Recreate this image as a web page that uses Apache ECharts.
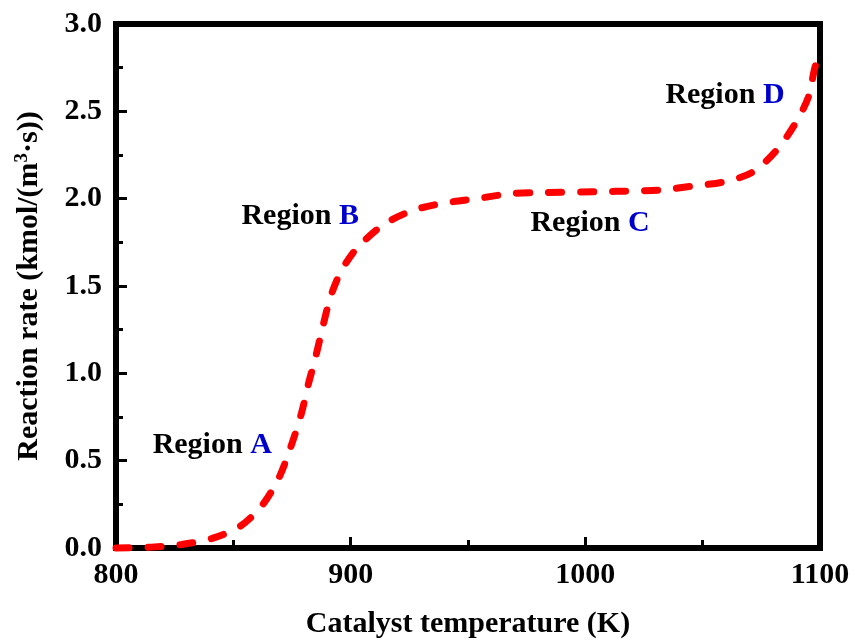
<!DOCTYPE html>
<html>
<head>
<meta charset="utf-8">
<script src="https://cdn.jsdelivr.net/npm/echarts@6/dist/echarts.min.js"></script>
<style>
html,body{margin:0;padding:0;background:#fff;}
#chart{width:855px;height:641px;}
</style>
</head>
<body>
<div id="chart"></div>
<script>
// Data
var temps = [800,815,828,841,853,862,869,874,879,882,885,888,891,894,897,901,905,915,927,940,955,969,981,1006,1020,1033,1046,1059,1071,1081,1089,1095,1098,1100];
var rates = [0,0.005,0.02,0.055,0.125,0.24,0.39,0.56,0.77,0.94,1.09,1.26,1.42,1.53,1.61,1.69,1.75,1.86,1.935,1.975,2.003,2.03,2.035,2.04,2.044,2.05,2.073,2.096,2.15,2.27,2.42,2.58,2.76,2.81];

var regionNames = ['A','B','C','D'];
var regionT = [841, 878.5, 1002, 1059.5];
var regionR = [0.59, 1.90, 1.86, 2.59];

var xTicks = [800, 900, 1000, 1100];
var yTicks = [0.0, 0.5, 1.0, 1.5, 2.0, 2.5, 3.0];

var FONT = '"Liberation Serif", "Times New Roman", serif';

var lineData = temps.map(function(t, i){ return [t, rates[i]]; });
var labelData = regionNames.map(function(n, i){ return {value:[regionT[i], regionR[i]], name:n}; });

var chart = echarts.init(document.getElementById('chart'), null, {renderer:'canvas'});
chart.setOption({
  animation:false,
  backgroundColor:'#ffffff',
  grid:{left:116, right:35, top:24, bottom:93, containLabel:false, outerBoundsMode:'none',
        show:true, borderColor:'#000', borderWidth:6, backgroundColor:'transparent'},
  xAxis:{
    type:'value', min:xTicks[0], max:xTicks[xTicks.length-1], interval:100,
    name:'Catalyst temperature (K)', nameLocation:'middle', nameGap:61,
    nameTextStyle:{fontFamily:FONT, fontWeight:'bold', fontSize:30, color:'#000'},
    axisLine:{show:true, lineStyle:{color:'#000', width:6}},
    axisTick:{show:true, inside:true, length:11, lineStyle:{color:'#000', width:3}},
    minorTick:{show:true, splitNumber:2, length:8, lineStyle:{color:'#000', width:3}},
    splitLine:{show:false},
    axisLabel:{fontFamily:FONT, fontWeight:'bold', fontSize:30, color:'#000', margin:12,
      formatter:function(v){ return String(v); }}
  },
  yAxis:{
    type:'value', min:yTicks[0], max:yTicks[yTicks.length-1], interval:0.5,
    name:'{a|Reaction rate (kmol/(m}{s|3}{a|·s))}', nameLocation:'middle', nameGap:70,
    nameTextStyle:{fontFamily:FONT, fontWeight:'bold', fontSize:30, color:'#000',
      rich:{
        a:{fontFamily:FONT, fontWeight:'bold', fontSize:30, color:'#000'},
        s:{fontFamily:FONT, fontWeight:'bold', fontSize:19, color:'#000', padding:[0,0,14,0]}
      }},
    axisLine:{show:true, lineStyle:{color:'#000', width:6}},
    axisTick:{show:true, inside:true, length:11, lineStyle:{color:'#000', width:3}},
    minorTick:{show:true, splitNumber:2, length:7, lineStyle:{color:'#000', width:3}},
    splitLine:{show:false},
    axisLabel:{fontFamily:FONT, fontWeight:'bold', fontSize:30, color:'#000', margin:14,
      formatter:function(v){ return v.toFixed(1); }}
  },
  series:[
    {
      type:'line', data:lineData, smooth:0.3, showSymbol:false, symbol:'none', clip:false,
      lineStyle:{color:'#ff0000', width:7, type:[13,19], cap:'round'}
    },
    {
      type:'scatter', data:labelData, symbolSize:0, silent:true,
      itemStyle:{opacity:1, color:'#000'},
      label:{show:true, position:'inside', opacity:1,
        formatter:function(p){ return '{r|Region }{l|' + p.name + '}'; },
        rich:{
          r:{fontFamily:FONT, fontWeight:'bold', fontSize:30, color:'#000000', opacity:1},
          l:{fontFamily:FONT, fontWeight:'bold', fontSize:30, color:'#0000cc', opacity:1}
        }}
    }
  ]
});
</script>
</body>
</html>
